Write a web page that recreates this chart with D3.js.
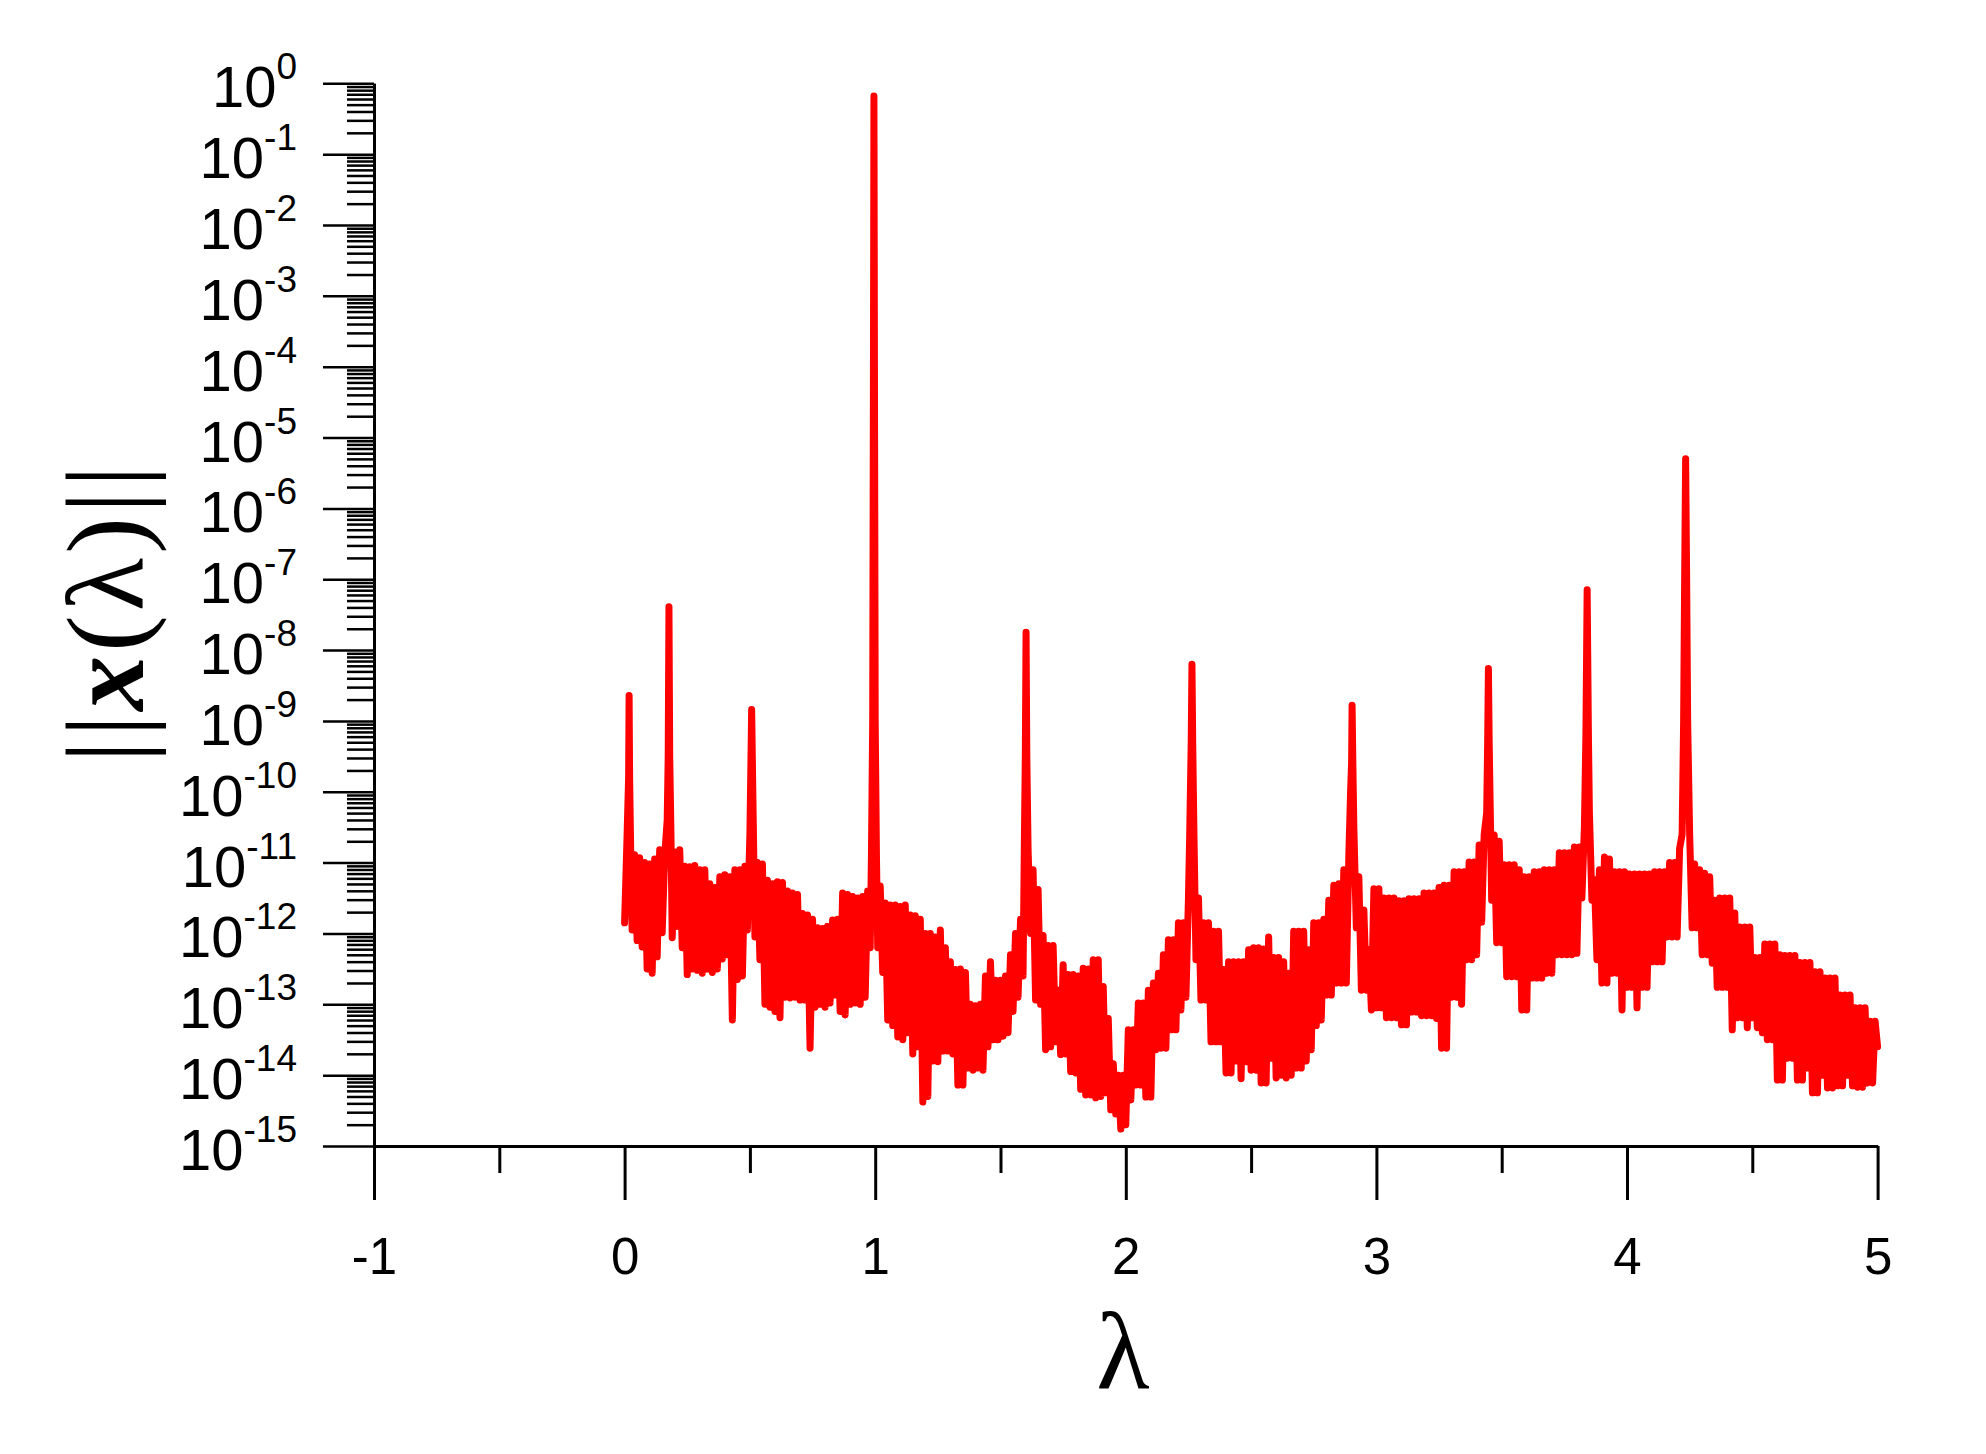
<!DOCTYPE html>
<html><head><meta charset="utf-8">
<script src="https://cdn.jsdelivr.net/npm/d3@7"></script>
<style>body{margin:0;background:#fff}svg{display:block}</style>
</head><body>
<svg id="chart" width="1986" height="1454"></svg>
<script>
// ---- data ----
const xMajorTicks = [-1, 0, 1, 2, 3, 4, 5];
const xMinorTicks = [-0.5, 0.5, 1.5, 2.5, 3.5, 4.5];
const xTickLabels = ["-1", "0", "1", "2", "3", "4", "5"];
const yDecadeExponents = [0, -1, -2, -3, -4, -5, -6, -7, -8, -9, -10, -11, -12, -13, -14, -15];
const yMinorMantissas = [2, 3, 4, 5, 6, 7, 8, 9];
const xTitle = "λ";
// [lambda, log10 ||x(lambda)||]
const spectrumLog10 = [
[0.000,-11.85],[0.010,-10.6],[0.016,-9.8],[0.018,-8.64],[0.020,-9.8],[0.025,-11.0],
[0.03,-11.95],[0.04,-10.89],[0.05,-12.1],[0.06,-10.93],[0.07,-12.19],[0.08,-11.0],[0.09,-12.5],
[0.10,-11.02],[0.11,-12.56],[0.12,-10.95],[0.13,-12.33],[0.14,-10.82],[0.15,-11.99],[0.16,-10.9],
[0.17,-10.4],[0.174,-9.5],[0.177,-7.39],[0.180,-9.5],[0.185,-10.6],[0.19,-12.06],[0.20,-10.85],
[0.21,-11.9],[0.22,-10.82],[0.23,-12.2],[0.24,-11.05],[0.25,-12.58],[0.26,-11.06],[0.27,-12.5],
[0.28,-11.04],[0.29,-12.52],[0.30,-11.1],[0.31,-12.56],[0.32,-11.1],[0.33,-12.5],[0.34,-11.3],
[0.35,-12.55],[0.36,-11.35],[0.37,-12.5],[0.38,-11.2],[0.39,-12.36],[0.40,-11.17],[0.41,-12.3],
[0.42,-11.2],[0.43,-13.22],[0.44,-11.1],[0.45,-12.65],[0.46,-11.1],[0.47,-12.6],[0.48,-11.05],
[0.49,-11.95],[0.50,-10.6],[0.504,-9.6],[0.507,-8.84],[0.510,-9.6],[0.515,-10.8],[0.52,-12.05],
[0.53,-11.0],[0.54,-12.37],[0.55,-11.02],[0.56,-13.0],[0.57,-11.25],[0.58,-13.04],[0.59,-11.3],
[0.60,-13.1],[0.61,-11.27],[0.62,-13.19],[0.63,-11.28],[0.64,-12.9],[0.65,-11.4],[0.66,-12.91],
[0.67,-11.43],[0.68,-12.9],[0.69,-11.45],[0.70,-12.94],[0.71,-11.72],[0.72,-12.94],[0.73,-11.74],
[0.74,-13.62],[0.75,-11.8],[0.76,-13.04],[0.77,-11.92],[0.78,-13.0],[0.79,-11.93],[0.80,-13.04],
[0.81,-11.9],[0.82,-12.98],[0.83,-11.81],[0.84,-12.87],[0.85,-11.8],[0.86,-13.1],[0.87,-11.43],
[0.88,-13.15],[0.89,-11.45],[0.90,-13.0],[0.91,-11.48],[0.92,-12.98],[0.93,-11.5],[0.94,-13.0],
[0.95,-11.48],[0.96,-12.9],[0.97,-11.4],[0.98,-12.2],[0.985,-10.9],[0.99,-9.0],[0.993,-4.0],
[0.995,-0.18],[0.997,-4.0],[1.000,-9.0],[1.005,-10.9],[1.01,-12.2],[1.02,-11.33],[1.03,-12.55],
[1.04,-11.57],[1.05,-13.22],[1.06,-11.6],[1.07,-13.3],[1.08,-11.6],[1.09,-13.46],[1.10,-11.62],
[1.11,-13.5],[1.12,-11.6],[1.13,-13.4],[1.14,-11.74],[1.15,-13.7],[1.16,-11.75],[1.17,-13.6],
[1.18,-11.8],[1.19,-14.38],[1.20,-12.0],[1.21,-14.3],[1.22,-12.0],[1.23,-13.8],[1.24,-12.05],
[1.25,-13.81],[1.26,-11.95],[1.27,-13.66],[1.28,-12.2],[1.29,-13.66],[1.30,-12.4],[1.31,-13.7],
[1.32,-12.51],[1.33,-14.14],[1.34,-12.5],[1.35,-14.14],[1.36,-12.55],[1.37,-13.9],[1.38,-13.0],
[1.39,-13.93],[1.40,-13.02],[1.41,-13.9],[1.42,-13.0],[1.43,-13.93],[1.44,-12.6],[1.45,-13.6],
[1.46,-12.4],[1.47,-13.5],[1.48,-12.66],[1.49,-13.5],[1.50,-12.66],[1.51,-13.45],[1.52,-12.6],
[1.53,-13.4],[1.54,-12.3],[1.55,-13.1],[1.56,-12.0],[1.57,-12.9],[1.58,-11.8],[1.59,-12.6],
[1.595,-10.8],[1.599,-9.5],[1.602,-7.75],[1.605,-9.5],[1.61,-10.8],[1.62,-12.0],[1.63,-11.1],
[1.64,-12.94],[1.65,-11.38],[1.66,-13.0],[1.67,-12.03],[1.68,-13.64],[1.69,-12.17],[1.70,-13.6],
[1.71,-12.17],[1.72,-13.53],[1.73,-12.8],[1.74,-13.71],[1.75,-12.44],[1.76,-13.7],[1.77,-12.58],
[1.78,-13.95],[1.79,-12.58],[1.80,-13.97],[1.81,-12.6],[1.82,-14.2],[1.83,-12.49],[1.84,-14.28],
[1.85,-12.5],[1.86,-14.28],[1.87,-12.37],[1.88,-14.32],[1.89,-12.37],[1.90,-14.3],[1.91,-12.75],
[1.92,-14.25],[1.93,-13.2],[1.94,-14.49],[1.95,-13.84],[1.96,-14.55],[1.97,-14.0],[1.98,-14.76],
[1.99,-14.0],[2.00,-14.7],[2.01,-13.36],[2.02,-14.35],[2.03,-13.36],[2.04,-14.14],[2.05,-12.98],
[2.06,-14.14],[2.07,-12.98],[2.08,-14.31],[2.09,-12.8],[2.10,-14.31],[2.11,-12.7],[2.12,-13.64],
[2.13,-12.56],[2.14,-13.62],[2.15,-12.3],[2.16,-13.62],[2.17,-12.09],[2.18,-13.36],[2.19,-12.09],
[2.20,-13.36],[2.21,-11.85],[2.22,-13.08],[2.23,-11.85],[2.24,-12.9],[2.25,-11.5],[2.255,-10.6],
[2.261,-9.3],[2.264,-8.2],[2.267,-9.3],[2.272,-10.6],[2.28,-12.37],[2.29,-11.5],[2.30,-12.94],
[2.31,-11.85],[2.32,-12.94],[2.33,-11.85],[2.34,-13.53],[2.35,-11.97],[2.36,-13.53],[2.37,-11.97],
[2.38,-13.53],[2.39,-12.51],[2.40,-13.97],[2.41,-12.4],[2.42,-13.97],[2.43,-12.4],[2.44,-13.8],
[2.45,-12.4],[2.46,-14.05],[2.47,-12.4],[2.48,-13.81],[2.49,-12.23],[2.50,-13.93],[2.51,-12.2],
[2.52,-13.93],[2.53,-12.2],[2.54,-14.11],[2.55,-12.22],[2.56,-14.11],[2.57,-12.05],[2.58,-13.76],
[2.59,-12.34],[2.60,-14.04],[2.61,-12.34],[2.62,-14.0],[2.63,-12.4],[2.64,-14.04],[2.65,-12.56],
[2.66,-14.0],[2.67,-11.97],[2.68,-13.9],[2.69,-11.97],[2.70,-13.9],[2.71,-11.97],[2.72,-13.8],
[2.73,-12.23],[2.74,-13.64],[2.75,-11.85],[2.76,-13.3],[2.77,-11.85],[2.78,-13.22],[2.79,-11.8],
[2.80,-12.87],[2.81,-11.53],[2.82,-12.87],[2.83,-11.32],[2.84,-12.7],[2.85,-11.3],[2.86,-12.7],
[2.87,-11.1],[2.88,-12.7],[2.89,-10.9],[2.897,-10.0],[2.901,-9.6],[2.903,-8.78],[2.906,-9.6],
[2.91,-10.5],[2.92,-11.92],[2.93,-11.2],[2.94,-12.8],[2.95,-11.67],[2.96,-12.8],[2.97,-12.23],
[2.98,-13.08],[2.99,-11.37],[3.00,-13.05],[3.01,-11.37],[3.02,-13.05],[3.03,-11.5],[3.04,-13.19],
[3.05,-11.5],[3.06,-13.19],[3.07,-11.5],[3.08,-13.19],[3.09,-11.54],[3.10,-13.29],[3.11,-11.54],
[3.12,-13.29],[3.13,-11.51],[3.14,-13.11],[3.15,-11.51],[3.16,-13.11],[3.17,-11.51],[3.18,-13.16],
[3.19,-11.43],[3.20,-13.16],[3.21,-11.43],[3.22,-13.16],[3.23,-11.43],[3.24,-13.2],[3.25,-11.35],
[3.26,-13.62],[3.27,-11.32],[3.28,-13.62],[3.29,-11.32],[3.30,-12.9],[3.31,-11.13],[3.32,-12.9],
[3.33,-11.13],[3.34,-13.0],[3.35,-11.13],[3.36,-12.37],[3.37,-10.99],[3.38,-12.37],[3.39,-10.99],
[3.40,-12.3],[3.41,-10.75],[3.42,-11.84],[3.43,-10.61],[3.44,-10.3],[3.444,-9.3],[3.447,-8.26],
[3.450,-9.3],[3.455,-10.4],[3.46,-11.53],[3.47,-10.61],[3.48,-12.13],[3.49,-10.7],[3.50,-12.13],
[3.51,-11.03],[3.52,-12.61],[3.53,-11.03],[3.54,-12.61],[3.55,-11.03],[3.56,-12.61],[3.57,-11.1],
[3.58,-13.08],[3.59,-11.2],[3.60,-13.08],[3.61,-11.2],[3.62,-12.63],[3.63,-11.13],[3.64,-12.63],
[3.65,-11.13],[3.66,-12.63],[3.67,-11.1],[3.68,-12.56],[3.69,-11.1],[3.70,-12.56],[3.71,-11.1],
[3.72,-12.3],[3.73,-10.86],[3.74,-12.3],[3.75,-10.86],[3.76,-12.3],[3.77,-10.86],[3.78,-12.3],
[3.79,-10.78],[3.80,-12.28],[3.81,-10.78],[3.82,-11.5],[3.83,-10.5],[3.836,-9.2],[3.841,-7.15],
[3.846,-9.2],[3.85,-10.3],[3.86,-11.53],[3.87,-11.24],[3.88,-12.37],[3.89,-11.1],[3.90,-12.7],
[3.91,-10.92],[3.92,-12.7],[3.93,-10.95],[3.94,-12.56],[3.95,-11.13],[3.96,-12.56],[3.97,-11.13],
[3.98,-13.08],[3.99,-11.13],[4.00,-12.76],[4.01,-11.16],[4.02,-12.76],[4.03,-11.16],[4.04,-13.05],
[4.05,-11.16],[4.06,-12.76],[4.07,-11.16],[4.08,-12.76],[4.09,-11.16],[4.10,-12.4],[4.11,-11.13],
[4.12,-12.4],[4.13,-11.13],[4.14,-12.4],[4.15,-11.13],[4.16,-12.05],[4.17,-11.0],[4.18,-12.05],
[4.19,-11.0],[4.20,-12.05],[4.21,-10.8],[4.22,-10.6],[4.226,-9.0],[4.230,-7.0],[4.234,-5.30],
[4.238,-7.0],[4.242,-9.0],[4.25,-10.6],[4.26,-11.92],[4.27,-11.02],[4.28,-11.92],[4.29,-11.1],
[4.30,-12.3],[4.31,-11.15],[4.32,-12.3],[4.33,-11.2],[4.34,-12.42],[4.35,-11.53],[4.36,-12.76],
[4.37,-11.5],[4.38,-12.76],[4.39,-11.5],[4.40,-12.76],[4.41,-11.5],[4.42,-13.36],[4.43,-11.71],
[4.44,-13.19],[4.45,-11.91],[4.46,-13.19],[4.47,-11.91],[4.48,-13.33],[4.49,-11.91],[4.50,-13.19],
[4.51,-12.34],[4.52,-13.33],[4.53,-12.34],[4.54,-13.4],[4.55,-12.15],[4.56,-13.5],[4.57,-12.15],
[4.58,-13.5],[4.59,-12.15],[4.60,-14.07],[4.61,-12.3],[4.62,-14.07],[4.63,-12.31],[4.64,-13.76],
[4.65,-12.31],[4.66,-13.76],[4.67,-12.31],[4.68,-14.07],[4.69,-12.41],[4.70,-14.07],[4.71,-12.41],
[4.72,-13.9],[4.73,-12.41],[4.74,-14.25],[4.75,-12.54],[4.76,-14.25],[4.77,-12.54],[4.78,-14.0],
[4.79,-12.63],[4.80,-14.18],[4.81,-12.63],[4.82,-14.18],[4.83,-12.63],[4.84,-14.15],[4.85,-12.87],
[4.86,-14.15],[4.87,-12.87],[4.88,-14.0],[4.89,-12.87],[4.90,-14.15],[4.91,-13.05],[4.92,-14.17],
[4.93,-13.05],[4.94,-14.17],[4.95,-13.05],[4.96,-14.11],[4.97,-13.24],[4.98,-14.11],[4.99,-13.24],
[5.00,-13.6]
];

// ---- drawing ----
const svg = d3.select("#chart");
const x = d3.scaleLinear().domain([-1, 5]).range([374, 1877.6]);
const y = d3.scaleLog().domain([1e-15, 1]).range([1146, 83.3]);
const sansFont = "'Liberation Sans', Arial, sans-serif";
const serifFont = "'Liberation Serif', 'Times New Roman', serif";

// curve
const line = d3.line().x(d => x(d[0])).y(d => y(Math.pow(10, d[1])));
svg.append("path")
  .datum(spectrumLog10)
  .attr("d", line)
  .attr("fill", "none")
  .attr("stroke", "#ff0000")
  .attr("stroke-width", 7)
  .attr("stroke-linejoin", "round")
  .attr("stroke-linecap", "round");

// x axis
const gx = svg.append("g").attr("transform", `translate(0,${y(1e-15)})`);
gx.call(d3.axisBottom(x).tickValues(xMajorTicks).tickSize(54).tickSizeOuter(0).tickPadding(38)
  .tickFormat((d, i) => xTickLabels[i]));
gx.append("g").call(d3.axisBottom(x).tickValues(xMinorTicks).tickSize(27).tickSizeOuter(0).tickFormat(""));
gx.selectAll(".domain").attr("stroke", "#000").attr("stroke-width", 3);
gx.selectAll(".tick line").attr("stroke", "#000").attr("stroke-width", 3);
gx.selectAll(".tick text").style("font-family", sansFont).style("font-size", "51px").attr("fill", "#000");

// y axis
const gy = svg.append("g").attr("transform", `translate(${x(-1)},0)`);
gy.call(d3.axisLeft(y).tickValues(yDecadeExponents.map(e => Math.pow(10, e))).tickSize(51).tickSizeOuter(0).tickFormat(""));
const minorVals = [];
yDecadeExponents.slice(1).forEach(e => yMinorMantissas.forEach(m => minorVals.push(m * Math.pow(10, e))));
gy.append("g").call(d3.axisLeft(y).tickValues(minorVals).tickSize(27).tickSizeOuter(0).tickFormat(""));
gy.selectAll(".domain").attr("stroke", "#000").attr("stroke-width", 3);
gy.selectAll(".tick line").attr("stroke", "#000").attr("stroke-width", 2.5);

// y tick labels 10^n
const yl = svg.append("g");
yDecadeExponents.forEach(e => {
  const t = yl.append("text")
    .attr("x", 297)
    .attr("y", y(Math.pow(10, e)) + 24)
    .attr("text-anchor", "end")
    .style("font-family", sansFont)
    .attr("fill", "#000");
  t.append("tspan").style("font-size", "58px").text("10");
  t.append("tspan").style("font-size", "37px").attr("dy", -28).text(String(e));
});

// x title
svg.append("text")
  .attr("x", 1123).attr("y", 1389)
  .attr("text-anchor", "middle")
  .style("font-family", serifFont).style("font-size", "110px")
  .attr("fill", "#000")
  .text(xTitle);

// y title ||x(λ)||
const yt = svg.append("text")
  .attr("transform", "translate(143,612) rotate(-90)")
  .attr("text-anchor", "middle")
  .style("font-family", serifFont).style("font-size", "110px")
  .style("letter-spacing", "4px")
  .attr("fill", "#000");
yt.append("tspan").text("||");
yt.append("tspan").style("font-weight", "bold").style("font-style", "italic").text("x");
yt.append("tspan").text("(λ)||");
</script>
</body></html>
